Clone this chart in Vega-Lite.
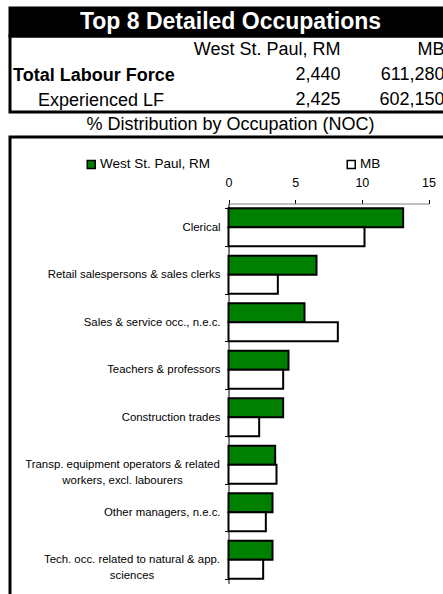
{
  "$schema": "https://vega.github.io/schema/vega-lite/v6.json",
  "padding": {"left": 8, "top": 6, "right": 0, "bottom": 0},
  "background": "white",
  "spacing": 0,
  "bounds": "flush",
  "resolve": {"legend": {"color": "independent"}},
  "config": {
    "font": "Liberation Sans",
    "view": {"stroke": "black", "strokeWidth": 3},
    "axis": {"grid": false}
  },
  "datasets": {
    "lf": [
      {"item": "Total Labour Force", "region": "West St. Paul, RM", "count": 2440},
      {"item": "Total Labour Force", "region": "MB", "count": 611280},
      {"item": "Experienced LF", "region": "West St. Paul, RM", "count": 2425},
      {"item": "Experienced LF", "region": "MB", "count": 602150}
    ],
    "occ": [
      {"occupation": "Clerical", "region": "West St. Paul, RM", "pct": 13.1},
      {"occupation": "Clerical", "region": "MB", "pct": 10.2},
      {"occupation": "Retail salespersons & sales clerks", "region": "West St. Paul, RM", "pct": 6.6},
      {"occupation": "Retail salespersons & sales clerks", "region": "MB", "pct": 3.7},
      {"occupation": "Sales & service occ., n.e.c.", "region": "West St. Paul, RM", "pct": 5.7},
      {"occupation": "Sales & service occ., n.e.c.", "region": "MB", "pct": 8.2},
      {"occupation": "Teachers & professors", "region": "West St. Paul, RM", "pct": 4.5},
      {"occupation": "Teachers & professors", "region": "MB", "pct": 4.1},
      {"occupation": "Construction trades", "region": "West St. Paul, RM", "pct": 4.1},
      {"occupation": "Construction trades", "region": "MB", "pct": 2.3},
      {"occupation": "Transp. equipment operators & related workers, excl. labourers", "region": "West St. Paul, RM", "pct": 3.5},
      {"occupation": "Transp. equipment operators & related workers, excl. labourers", "region": "MB", "pct": 3.6},
      {"occupation": "Other managers, n.e.c.", "region": "West St. Paul, RM", "pct": 3.3},
      {"occupation": "Other managers, n.e.c.", "region": "MB", "pct": 2.8},
      {"occupation": "Tech. occ. related to natural & app. sciences", "region": "West St. Paul, RM", "pct": 3.3},
      {"occupation": "Tech. occ. related to natural & app. sciences", "region": "MB", "pct": 2.6}
    ]
  },
  "vconcat": [
    {
      "width": 441,
      "height": 28,
      "view": {"fill": "black", "stroke": "black", "strokeWidth": 3},
      "data": {"values": [{"title": "Top 8 Detailed Occupations"}]},
      "mark": {"type": "text", "color": "white", "fontSize": 23, "fontWeight": "bold", "align": "center", "baseline": "middle"},
      "encoding": {"text": {"field": "title"}}
    },
    {
      "width": 441,
      "height": 76,
      "data": {"name": "lf"},
      "layer": [
        {
          "mark": {"type": "text", "fontSize": 18, "align": "right", "baseline": "middle", "color": "black"},
          "encoding": {
            "x": {"field": "region", "type": "nominal", "scale": {"type": "point", "domain": ["West St. Paul, RM", "MB"], "range": [330.5, 434.5], "padding": 0}, "axis": null},
            "y": {
              "field": "item", "type": "nominal",
              "scale": {"type": "point", "domain": ["hdr", "Total Labour Force", "Experienced LF"], "range": [14, 64], "padding": 0},
              "axis": {
                "orient": "left",
                "offset": -2.5,
                "values": ["Total Labour Force", "Experienced LF"],
                "title": null,
                "domain": false,
                "ticks": false,
                "tickSize": 0,
                "labelFontSize": 18,
                "labelColor": "black",
                "labelAlign": "left",
                "labelBaseline": "middle",
                "labelLimit": 300,
                "labelFontWeight": {"condition": {"test": "datum.value == 'Total Labour Force'", "value": "bold"}, "value": "normal"},
                "labelPadding": {"condition": {"test": "datum.value == 'Experienced LF'", "value": -25}, "value": 0}
              }
            },
            "text": {"field": "count", "type": "quantitative", "format": ","}
          }
        },
        {
          "transform": [{"filter": "datum.item === 'Total Labour Force'"}],
          "mark": {"type": "text", "fontSize": 18, "align": "right", "baseline": "middle", "color": "black"},
          "encoding": {
            "x": {"field": "region", "type": "nominal", "scale": {"type": "point", "domain": ["West St. Paul, RM", "MB"], "range": [330.5, 434.5], "padding": 0}, "axis": null},
            "y": {"datum": "hdr", "type": "nominal"},
            "text": {"field": "region"}
          }
        }
      ]
    },
    {
      "width": 441,
      "height": 25,
      "data": {"values": [{"t": "% Distribution by Occupation (NOC)"}]},
      "mark": {"type": "text", "fontSize": 18, "align": "center", "baseline": "middle", "color": "black"},
      "encoding": {"text": {"field": "t"}}
    },
    {
      "width": 441,
      "height": 460,
      "data": {"name": "occ"},
      "mark": {"type": "bar", "stroke": "black", "strokeWidth": 2},
      "encoding": {
        "y": {
          "field": "occupation",
          "type": "nominal",
          "sort": null,
          "scale": {"range": [66.5, 446.5], "paddingInner": 0.2, "paddingOuter": 0.1},
          "axis": {
            "orient": "left",
            "offset": -218.5,
            "title": null,
            "domainColor": "black",
            "domainWidth": 1,
            "tickColor": "black",
            "tickSize": 4,
            "tickBand": "extent",
            "labelFontSize": 11.4,
            "labelColor": "black",
            "labelLimit": 400,
            "labelLineHeight": 16,
            "labelExpr": "datum.value == 'Transp. equipment operators & related workers, excl. labourers' ? ['Transp. equipment operators & related', 'workers, excl. labourers'] : datum.value == 'Tech. occ. related to natural & app. sciences' ? ['Tech. occ. related to natural & app.', 'sciences'] : datum.value",
            "labelAlign": {"condition": {"test": "datum.value == 'Transp. equipment operators & related workers, excl. labourers' || datum.value == 'Tech. occ. related to natural & app. sciences'", "value": "center"}, "value": "right"},
            "labelPadding": {"condition": [
              {"test": "datum.value == 'Transp. equipment operators & related workers, excl. labourers'", "value": 102.5},
              {"test": "datum.value == 'Tech. occ. related to natural & app. sciences'", "value": 93}
            ], "value": 4.5}
          }
        },
        "x": {
          "field": "pct",
          "type": "quantitative",
          "scale": {"domain": [0, 15], "range": [218.5, 418.5], "nice": false, "zero": true},
          "axis": {
            "orient": "top",
            "offset": -66.5,
            "values": [0, 5, 10, 15],
            "title": null,
            "domainColor": "#808080",
            "domainWidth": 1,
            "tickColor": "black",
            "tickSize": 4,
            "labelFontSize": 12.5,
            "labelColor": "black",
            "labelPadding": 10,
            "labelFlush": false,
            "labelOverlap": false
          }
        },
        "yOffset": {
          "field": "region",
          "type": "nominal",
          "sort": ["West St. Paul, RM", "MB"],
          "scale": {"paddingInner": 0, "paddingOuter": 0}
        },
        "color": {
          "field": "region",
          "type": "nominal",
          "scale": {"domain": ["West St. Paul, RM", "MB"], "range": ["#008000", "#ffffff"]},
          "legend": {
            "orient": "none",
            "legendX": 74.5,
            "legendY": 20.5,
            "direction": "horizontal",
            "title": null,
            "symbolType": "square",
            "symbolSize": 64,
            "symbolStrokeColor": "black",
            "symbolStrokeWidth": 1.5,
            "symbolOpacity": 1,
            "labelFontSize": 13.5,
            "labelColor": "black",
            "labelOffset": 2,
            "columnPadding": 133,
            "labelLimit": 300
          }
        }
      }
    }
  ]
}
